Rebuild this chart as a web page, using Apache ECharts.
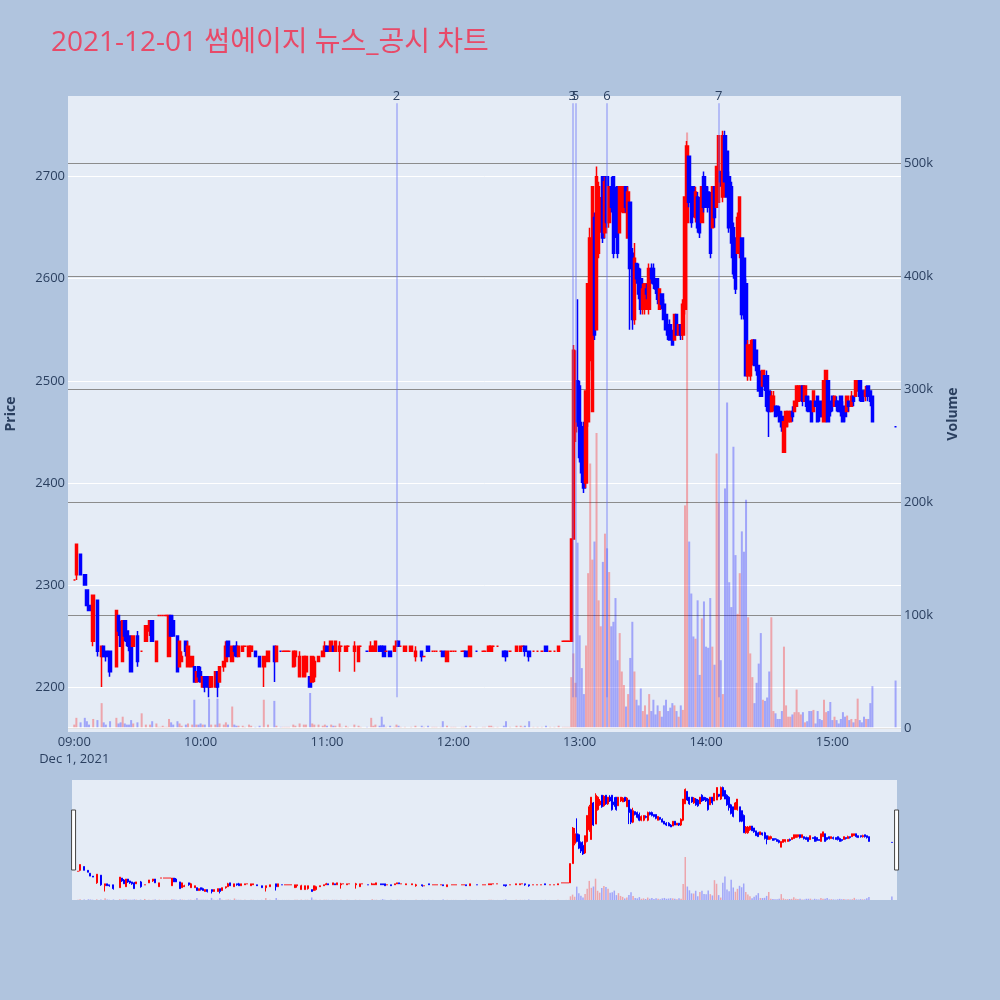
<!DOCTYPE html>
<html>
<head>
<meta charset="utf-8">
<script src="https://cdn.jsdelivr.net/npm/echarts@6/dist/echarts.min.js"></script>
<style>
  html, body { margin: 0; padding: 0; background: #b0c4de; }
  #chart { width: 1000px; height: 1000px; }
</style>
</head>
<body>
<div id="chart"></div>
<script>
  // rows: [minute after 09:00, open, close, low, high, volume]
  const amBars = [
    [0,2305,2305,2305,2305,3000],[1,2310,2340,2305,2340,9000],[3,2330,2310,2310,2330,5000],
    [5,2310,2300,2300,2310,9000],[6,2295,2280,2280,2295,6000],[7,2280,2275,2275,2280,3000],
    [9,2245,2290,2240,2290,8000],[11,2285,2235,2230,2285,7000],[13,2230,2240,2200,2240,22000],
    [14,2240,2230,2230,2240,5000],[15,2235,2230,2225,2235,3000],[17,2235,2215,2210,2235,6000],
    [20,2220,2275,2220,2275,9000],[21,2270,2255,2250,2270,4000],[22,2260,2240,2240,2265,5000],
    [23,2225,2265,2225,2265,10000],[24,2265,2250,2245,2265,4000],[25,2255,2245,2240,2255,3000],
    [26,2250,2240,2235,2250,3000],[27,2245,2215,2215,2250,7000],[28,2240,2250,2240,2250,4000],
    [30,2250,2225,2220,2255,5000],[32,2235,2235,2235,2235,13000],[34,2245,2260,2245,2260,3000],
    [36,2255,2265,2250,2265,3000],[37,2265,2245,2245,2265,6000],[39,2225,2245,2225,2245,4000],
    [40,2270,2270,2270,2270,1000],[41,2270,2270,2270,2270,1000],[42,2270,2270,2270,2270,2000],
    [43,2270,2270,2270,2270,1000],[44,2270,2270,2270,2270,1000],[45,2230,2270,2230,2270,8000],
    [46,2270,2250,2250,2270,5000],[47,2265,2250,2250,2270,3000],[49,2250,2215,2215,2250,6000],
    [50,2220,2245,2220,2245,4000],[51,2225,2230,2225,2235,2000],[53,2245,2235,2230,2245,3000],
    [54,2220,2240,2220,2245,4000],[56,2220,2230,2220,2230,3000],[57,2220,2205,2205,2220,25000],
    [58,2205,2215,2205,2215,3000],[59,2220,2210,2205,2220,3000],[60,2215,2205,2205,2220,4000],
    [61,2200,2210,2200,2210,3000],[62,2210,2200,2195,2210,3000],[64,2210,2200,2190,2210,26000],
    [65,2200,2210,2200,2210,3000],[67,2200,2215,2200,2215,3000],[68,2215,2200,2190,2215,26000],
    [69,2205,2220,2205,2220,4000],[71,2220,2225,2215,2225,3000],[72,2225,2240,2225,2245,5000],
    [73,2245,2230,2230,2245,3000],[75,2225,2240,2225,2240,19000],[76,2240,2235,2230,2240,3000],
    [77,2240,2230,2230,2245,2000],[78,2230,2240,2230,2240,2000],[80,2235,2240,2235,2240,2000],
    [81,2240,2240,2240,2240,1000],[83,2230,2240,2230,2240,3000],[84,2235,2240,2235,2240,2000],
    [86,2235,2230,2230,2235,1000],[88,2230,2220,2220,2230,2000],[90,2220,2230,2200,2230,25000],
    [92,2225,2235,2225,2235,3000],[95,2240,2225,2205,2240,24000],[96,2225,2240,2225,2240,2000],
    [98,2235,2235,2235,2235,1000],[99,2235,2235,2235,2235,1000],[100,2235,2235,2235,2235,1000],
    [101,2235,2235,2235,2235,1000],[102,2235,2235,2235,2235,1000],[104,2220,2235,2220,2235,3000],
    [105,2230,2235,2220,2235,2000],[107,2210,2230,2210,2235,4000],[109,2210,2230,2210,2230,3000],
    [110,2215,2230,2210,2230,3000],[112,2210,2200,2200,2210,31000],[113,2205,2230,2205,2230,4000],
    [114,2210,2225,2205,2230,3000],[116,2225,2230,2225,2230,3000],[118,2230,2235,2230,2235,2000],
    [119,2235,2240,2235,2245,3000],[120,2240,2235,2235,2240,2000]
  ]

  const noonBars = [
    [122,2235,2245,2235,2245,3000],[123,2240,2235,2235,2240,2000],[124,2235,2245,2235,2245,2000],
    [126,2235,2240,2215,2245,4000],[127,2240,2240,2240,2240,1000],[129,2235,2240,2235,2240,2000],
    [130,2240,2240,2240,2240,1000],[133,2235,2240,2215,2245,3000],[135,2225,2240,2225,2240,2000],
    [136,2240,2240,2240,2240,1000],[139,2235,2235,2235,2235,1000],[141,2235,2240,2235,2245,9000],
    [142,2235,2240,2235,2240,2000],[143,2235,2245,2235,2245,3000],[145,2240,2235,2235,2240,2000],
    [146,2240,2235,2235,2240,10000],[147,2240,2230,2230,2240,3000],[148,2235,2235,2235,2235,1000],
    [150,2235,2230,2230,2235,2000],[152,2235,2240,2235,2240,1000],[153,2240,2245,2240,2245,3000],
    [154,2245,2240,2240,2245,2000],[155,2240,2240,2240,2240,1000],[157,2235,2240,2235,2240,1000],
    [160,2235,2240,2235,2240,1000],[162,2230,2235,2225,2240,2000],[165,2235,2230,2225,2235,2000],
    [166,2230,2230,2230,2230,1000],[168,2240,2235,2235,2240,2000],[170,2235,2235,2235,2235,1000],
    [171,2235,2235,2235,2235,1000],[172,2235,2235,2235,2235,1000],[174,2235,2235,2235,2235,1000],
    [175,2235,2230,2230,2235,6000],[177,2225,2235,2225,2235,2000],[179,2235,2235,2235,2235,1000],
    [180,2235,2235,2235,2235,1000],[181,2235,2235,2235,2235,1000],[184,2235,2235,2235,2235,1000],
    [185,2235,2235,2235,2235,1000],[186,2235,2230,2230,2235,2000],[188,2230,2240,2230,2240,2000],
    [191,2235,2235,2235,2235,1000],[194,2235,2235,2235,2235,1000],[195,2235,2235,2235,2235,1000],
    [197,2235,2240,2235,2240,2000],[198,2235,2240,2235,2240,2000],[199,2240,2240,2240,2240,1000],
    [201,2240,2240,2240,2240,1000],[204,2235,2230,2230,2235,2000],[205,2235,2230,2225,2235,6000],
    [207,2235,2235,2235,2235,1000],[210,2235,2240,2235,2240,2000],[212,2235,2240,2235,2240,2000],
    [213,2240,2240,2240,2240,1000],[214,2240,2235,2230,2240,2000],[216,2235,2230,2225,2235,6000],
    [218,2235,2235,2235,2235,1000],[220,2235,2235,2235,2235,1000],[222,2235,2235,2235,2235,1000],
    [224,2240,2235,2235,2240,2000],[226,2235,2235,2235,2235,1000],[228,2235,2235,2235,2235,1000],
    [230,2235,2240,2235,2240,2000],[232,2245,2245,2245,2245,1000],[233,2245,2245,2245,2245,1000],
    [234,2245,2245,2245,2245,1000],[235,2245,2245,2245,2245,1000]
  ]

  const pmBars = [
    [236,2245,2345,2245,2345,45000],[237,2345,2530,2345,2535,66000],[238,2450,2500,2440,2530,40000],
    [239,2500,2460,2455,2580,164000],[240,2495,2425,2420,2500,82000],[241,2455,2410,2400,2460,53000],
    [242,2440,2395,2390,2460,30000],[243,2400,2490,2395,2490,73000],[244,2460,2595,2455,2595,137000],
    [245,2520,2640,2510,2650,234000],[246,2470,2690,2470,2690,149000],[247,2660,2545,2540,2665,165000],
    [248,2550,2700,2550,2710,261000],[249,2625,2690,2620,2695,113000],[250,2650,2670,2645,2680,90000],
    [251,2700,2640,2635,2700,147000],[252,2645,2695,2640,2700,172000],[253,2700,2655,2650,2700,159000],
    [254,2655,2690,2650,2690,138000],[255,2690,2670,2665,2700,90000],[256,2700,2625,2620,2700,94000],
    [257,2665,2650,2640,2690,115000],[258,2690,2625,2620,2690,60000],[259,2645,2690,2645,2690,84000],
    [260,2670,2690,2665,2690,50000],[261,2665,2685,2665,2690,38000],[262,2690,2670,2665,2690,19000],
    [263,2640,2685,2640,2690,30000],[264,2675,2610,2550,2675,62000],[265,2625,2560,2550,2630,94000],
    [266,2560,2620,2555,2635,50000],[267,2615,2600,2595,2615,25000],[268,2610,2585,2580,2615,20000],
    [269,2600,2570,2565,2610,35000],[270,2570,2590,2565,2595,15000],[271,2570,2595,2565,2595,20000],
    [272,2590,2585,2580,2595,12000],[273,2570,2610,2565,2615,30000],[274,2610,2600,2595,2615,15000],
    [275,2610,2595,2590,2615,25000],[276,2600,2590,2585,2600,12000],[277,2600,2580,2575,2600,20000],
    [278,2570,2590,2570,2590,15000],[279,2585,2575,2570,2585,10000],[280,2575,2560,2560,2580,20000],
    [281,2565,2550,2550,2565,25000],[282,2555,2545,2540,2560,15000],[283,2555,2540,2540,2560,18000],
    [284,2545,2535,2535,2550,22000],[285,2540,2565,2540,2565,20000],[286,2565,2545,2545,2565,15000],
    [287,2545,2555,2545,2555,10000],[288,2555,2545,2540,2555,20000],[289,2545,2575,2540,2580,16000],
    [290,2570,2680,2565,2680,197000],[291,2655,2730,2655,2735,527000],[292,2720,2675,2670,2720,165000],
    [293,2690,2655,2650,2690,119000],[294,2690,2665,2660,2690,81000],[295,2660,2685,2655,2690,79000],
    [296,2680,2650,2645,2685,113000],[297,2675,2645,2640,2680,47000],[298,2655,2690,2655,2690,97000],
    [299,2700,2670,2665,2705,112000],[300,2690,2675,2670,2690,72000],[301,2685,2670,2665,2690,71000],
    [302,2680,2625,2620,2685,115000],[303,2650,2690,2650,2690,72000],[304,2690,2660,2650,2690,56000],
    [305,2670,2710,2670,2710,243000],[306,2675,2740,2675,2740,199000],[307,2705,2695,2690,2705,60000],
    [308,2680,2740,2675,2745,30000],[309,2740,2695,2695,2745,212000],[310,2725,2680,2680,2725,288000],
    [311,2700,2650,2645,2705,129000],[312,2690,2635,2620,2695,107000],[313,2650,2605,2600,2655,249000],
    [314,2640,2590,2585,2640,153000],[315,2625,2660,2625,2665,101000],[316,2625,2680,2620,2680,137000],
    [317,2640,2565,2560,2640,174000],[318,2620,2565,2560,2620,156000],[319,2595,2505,2505,2600,202000],
    [320,2505,2535,2500,2540,98000],[321,2505,2535,2500,2540,66000],[322,2520,2540,2515,2540,45000],
    [323,2540,2515,2515,2540,22000],[324,2530,2510,2505,2530,40000],[325,2515,2490,2490,2515,57000],
    [326,2505,2485,2485,2510,84000],[327,2495,2510,2495,2510,25000],[328,2505,2495,2490,2505,24000],
    [329,2505,2475,2470,2510,27000],[330,2490,2470,2445,2490,50000],[331,2470,2485,2470,2490,98000],
    [332,2475,2485,2470,2490,15000],[333,2475,2465,2465,2475,13000],[334,2475,2470,2465,2475,8000],
    [335,2470,2460,2460,2475,8000],[336,2465,2455,2450,2470,15000],[337,2430,2460,2430,2460,72000],
    [338,2455,2470,2455,2470,20000],[339,2460,2470,2455,2470,10000],[340,2460,2470,2460,2470,10000],
    [341,2470,2465,2460,2475,12000],[342,2470,2480,2470,2480,14000],[343,2475,2495,2475,2495,34000],
    [344,2480,2495,2480,2495,14000],[345,2485,2495,2480,2495,12000],[346,2495,2480,2475,2495,14000],
    [347,2480,2495,2480,2495,5000],[348,2485,2475,2470,2485,6000],[349,2480,2470,2470,2485,15000],
    [350,2480,2460,2460,2480,15000],[351,2470,2490,2470,2490,16000],[352,2480,2475,2475,2480,4000],
    [353,2485,2460,2460,2485,15000],[354,2480,2465,2460,2480,8000],[355,2470,2465,2465,2470,7000],
    [356,2460,2500,2460,2500,25000],[357,2485,2510,2485,2510,14000],[358,2500,2460,2460,2500,15000],
    [359,2480,2470,2465,2480,23000],[360,2485,2475,2470,2485,7000],[361,2475,2485,2475,2485,10000],
    [362,2480,2475,2470,2485,7000],[363,2480,2470,2470,2480,4000],[364,2485,2470,2465,2485,8000],
    [365,2475,2460,2460,2480,14000],[366,2470,2465,2460,2470,10000],[367,2470,2485,2470,2485,11000],
    [368,2480,2475,2470,2480,7000],[369,2475,2485,2475,2490,8000],[370,2485,2480,2475,2485,5000],
    [371,2485,2500,2485,2500,8000],[372,2490,2500,2490,2500,26000],[373,2500,2485,2480,2500,7000],
    [374,2490,2480,2480,2490,5000],[375,2490,2485,2480,2490,10000],[376,2485,2490,2480,2495,8000],
    [377,2495,2485,2480,2495,8000],[378,2490,2480,2475,2490,22000],[379,2485,2460,2460,2485,37000],
    [390,2455,2455,2455,2455,42000]
  ]

  // news / disclosure markers
  const eventLabels = ['2', '3', '5', '6', '7']
  const eventTimes = ['11:33:00', '12:56:30', '12:58:00', '13:13:00', '14:06:00']

  const UP = '#ff0000'
  const DOWN = '#0000ff'

  function toTime(min) {
    return new Date(2021, 11, 1, 9, min).getTime()
  }
  function clockTime(str) {
    const p = str.split(':').map(Number)
    return new Date(2021, 11, 1, p[0], p[1], p[2]).getTime()
  }
  function pad(n) {
    return (n < 10 ? '0' : '') + n
  }

  const bars = amBars.concat(noonBars, pmBars)
  const candles = bars.map(b => [toTime(b[0]), b[1], b[2], b[3], b[4]])

  // same up/down rule as the candlestick series (flat candles follow previous close)
  const volumes = bars.map((b, i) => {
    let up = b[2] > b[1]
    if (b[2] === b[1]) up = i === 0 || bars[i - 1][2] <= b[2]
    return {
      value: [toTime(b[0]), b[5]],
      itemStyle: {color: up ? 'rgba(255,0,0,0.3)' : 'rgba(0,0,255,0.3)'}
    }
  })

  const eventLines = eventLabels.map((name, i) => {
    const t = clockTime(eventTimes[i])
    return [{coord: [t, 2190], name: name}, {coord: [t, 2772]}]
  })

  const xMin = new Date(2021, 11, 1, 8, 57, 30).getTime()
  const xMax = new Date(2021, 11, 1, 15, 32, 6).getTime()
  const textColor = '#2a3f5f'
  const font = "'Open Sans', 'Noto Sans CJK KR', sans-serif"

  const chart = echarts.init(document.getElementById('chart'))

  const option = {
    backgroundColor: '#b0c4de',
    animation: false,
    textStyle: {fontFamily: font},
    title: {
      text: '2021-12-01 썸에이지 뉴스_공시 차트',
      left: 46,
      top: 24,
      textStyle: {color: '#e84a68', fontSize: 28, fontWeight: 'normal', fontFamily: font}
    },
    grid: [
      {left: 68, right: 99, top: 96, height: 636, show: true, backgroundColor: '#e5ecf6', borderWidth: 0, outerBoundsMode: 'none', containLabel: false},
      {left: 72, right: 103, top: 780, height: 120, show: true, backgroundColor: '#e5ecf6', borderWidth: 0, outerBoundsMode: 'none', containLabel: false}
    ],
    xAxis: [
      {
        type: 'time', gridIndex: 0, min: xMin, max: xMax,
        minInterval: 3600 * 1000, maxInterval: 3600 * 1000,
        axisLine: {show: false}, axisTick: {show: false}, splitLine: {show: false},
        axisLabel: {
          color: textColor, fontSize: 13, margin: 2, lineHeight: 17,
          formatter: function (v) {
            const d = new Date(v)
            const s = pad(d.getHours()) + ':' + pad(d.getMinutes())
            return (d.getHours() === 9 && d.getMinutes() === 0) ? s + '\nDec 1, 2021' : s
          }
        }
      },
      {
        type: 'time', gridIndex: 1, min: xMin, max: xMax, show: false
      }
    ],
    yAxis: [
      {
        type: 'value', gridIndex: 0, position: 'left', min: 2156, max: 2779,
        name: 'Price', nameLocation: 'middle', nameGap: 50, nameRotate: 90,
        nameTextStyle: {color: textColor, fontSize: 14, fontWeight: 'bold'},
        axisLine: {show: false}, axisTick: {show: false},
        axisLabel: {color: textColor, fontSize: 13, margin: 3, showMinLabel: false, showMaxLabel: false,
          formatter: v => String(v)},
        splitLine: {show: true, showMinLine: false, showMaxLine: false, lineStyle: {color: '#ffffff', width: 1}}
      },
      {
        type: 'value', gridIndex: 0, position: 'right', min: -3540, max: 559300,
        name: 'Volume', nameLocation: 'middle', nameGap: 45, nameRotate: 90,
        nameTextStyle: {color: textColor, fontSize: 14, fontWeight: 'bold'},
        axisLine: {show: false}, axisTick: {show: false},
        axisLabel: {
          color: textColor, fontSize: 13, margin: 3, showMinLabel: false, showMaxLabel: false,
          formatter: v => v === 0 ? '0' : (v / 1000) + 'k'
        },
        splitLine: {show: true, showMinLine: false, showMaxLine: false, lineStyle: {color: '#8c8c8c', width: 1.2}}
      },
      {type: 'value', gridIndex: 1, min: 2156, max: 2779, show: false, splitLine: {show: false}},
      {type: 'value', gridIndex: 1, min: 0, max: 1470000, show: false, splitLine: {show: false}}
    ],
    dataZoom: [
      {
        type: 'slider', xAxisIndex: 1, filterMode: 'none', start: 0, end: 100,
        left: 72, right: 103, top: 780, height: 120,
        showDataShadow: false, showDetail: false, brushSelect: false,
        backgroundColor: 'rgba(0,0,0,0)', fillerColor: 'rgba(0,0,0,0)', borderColor: 'rgba(0,0,0,0)',
        handleIcon: 'path://M0,0 L1,0 L1,15 L0,15 Z', handleSize: '50%',
        handleStyle: {color: '#ffffff', borderColor: '#444444', borderWidth: 1},
        moveHandleSize: 0, zoomLock: true
      }
    ],
    series: [
      {
        name: 'price', type: 'candlestick', xAxisIndex: 0, yAxisIndex: 0,
        data: candles, barWidth: 3,
        itemStyle: {color: UP, color0: DOWN, borderColor: UP, borderColor0: DOWN, borderWidth: 1.5},
        markLine: {
          silent: true, symbol: ['none', 'none'],
          lineStyle: {color: 'rgba(99,110,250,0.5)', width: 1.5, type: 'solid'},
          label: {show: true, position: 'end', formatter: '{b}', color: textColor, fontSize: 13, distance: 0},
          data: eventLines
        }
      },
      {
        name: 'volume', type: 'bar', xAxisIndex: 0, yAxisIndex: 1,
        data: volumes, barWidth: 2,
        markLine: {
          silent: true, symbol: ['none', 'none'], label: {show: false},
          lineStyle: {color: '#ffffff', width: 1.5, type: 'solid'},
          data: [{yAxis: 0}]
        }
      },
      {
        name: 'price-mini', type: 'candlestick', xAxisIndex: 1, yAxisIndex: 2,
        data: candles, barWidth: 1.5,
        itemStyle: {color: UP, color0: DOWN, borderColor: UP, borderColor0: DOWN, borderWidth: 1}
      },
      {
        name: 'volume-mini', type: 'bar', xAxisIndex: 1, yAxisIndex: 3,
        data: volumes, barWidth: 1.5
      }
    ]
  }

  chart.setOption(option)
</script>
</body>
</html>
